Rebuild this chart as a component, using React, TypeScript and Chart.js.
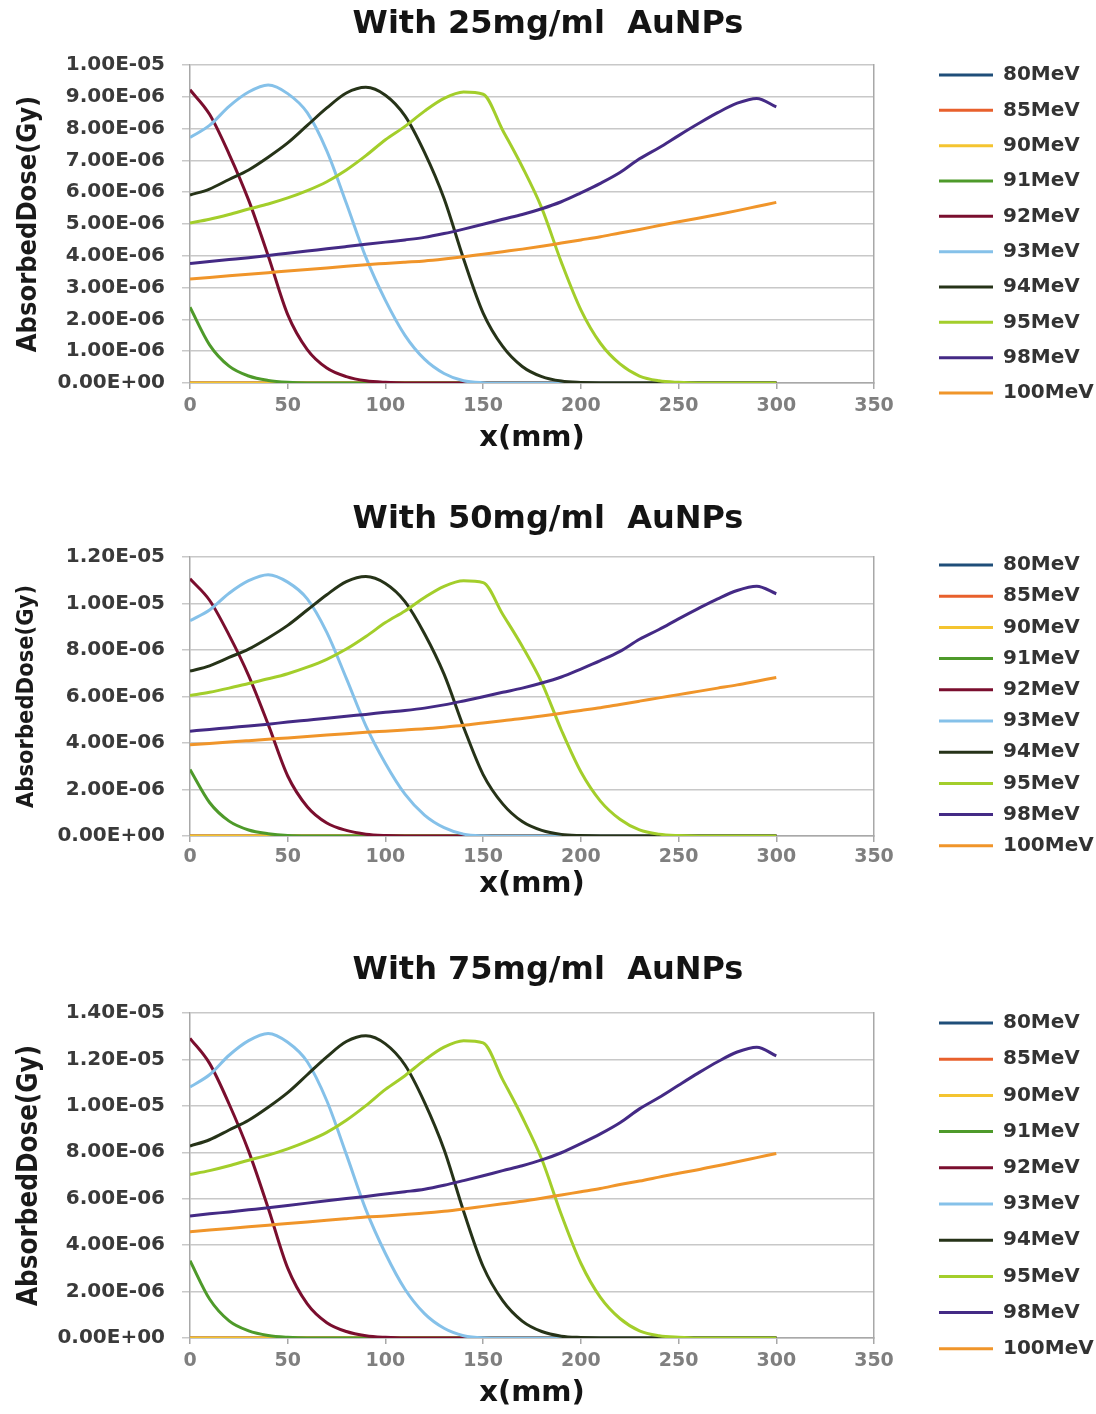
import React, { useEffect, useRef } from 'react';
import { Chart, registerables } from 'chart.js';

Chart.register(...registerables);

// ---------- data (dose values in units of 1e-6 Gy) ----------
const positionsMm = [0, 10, 20, 30, 40, 50, 60, 70, 80, 90, 100, 110, 120, 130, 140, 150, 160, 170, 180, 190, 200, 210, 220, 230, 240, 250, 260, 270, 280, 290, 300];

const energyLabels = ['80MeV', '85MeV', '90MeV', '91MeV', '92MeV', '93MeV', '94MeV', '95MeV', '98MeV', '100MeV'];
const lineColors = ['#1F4E79', '#E8602C', '#F4C430', '#4E9A2A', '#7A0E2E', '#85C1E9', '#263318', '#A3CE2B', '#442A85', '#F0952A'];

const panelTitles = ['With 25mg/ml  AuNPs', 'With 50mg/ml  AuNPs', 'With 75mg/ml  AuNPs'];
const yMaxes = [10, 12, 14];
const ySteps = [1, 2, 2];
const xTicksMm = { min: 0, max: 350, step: 50 };

const flatZero = [0, 0, 0, 0, 0, 0, 0, 0, 0, 0, 0, 0, 0, 0, 0, 0, 0, 0, 0, 0, 0, 0, 0, 0, 0, 0, 0, 0, 0, 0, 0];

// 25 mg/ml
const c25_91 = [2.38, 1.2, 0.53, 0.22, 0.08, 0.02, 0, 0, 0, 0, 0, 0, 0, 0, 0, 0, 0, 0, 0, 0, 0, 0, 0, 0, 0, 0, 0, 0, 0, 0, 0];
const c25_92 = [9.22, 8.45, 7.2, 5.75, 4.0, 2.15, 1.05, 0.47, 0.2, 0.07, 0.02, 0, 0, 0, 0, 0, 0, 0, 0, 0, 0, 0, 0, 0, 0, 0, 0, 0, 0, 0, 0];
const c25_93 = [7.72, 8.1, 8.7, 9.15, 9.37, 9.1, 8.5, 7.3, 5.65, 3.95, 2.6, 1.5, 0.75, 0.3, 0.07, 0.01, 0, 0, 0, 0, 0, 0, 0, 0, 0, 0, 0, 0, 0, 0, 0];
const c25_94 = [5.91, 6.1, 6.4, 6.7, 7.1, 7.55, 8.1, 8.65, 9.12, 9.3, 9.05, 8.4, 7.25, 5.8, 3.9, 2.2, 1.15, 0.52, 0.2, 0.06, 0.015, 0, 0, 0, 0, 0, 0, 0, 0, 0, 0];
const c25_95 = [5.03, 5.15, 5.3, 5.47, 5.63, 5.82, 6.05, 6.33, 6.7, 7.15, 7.65, 8.07, 8.55, 8.95, 9.15, 9.08, 7.95, 6.8, 5.5, 3.8, 2.3, 1.25, 0.6, 0.22, 0.07, 0.02, 0, 0, 0, 0, 0];
const c25_98 = [3.76, 3.82, 3.88, 3.94, 4.01, 4.08, 4.15, 4.22, 4.29, 4.36, 4.43, 4.5, 4.58, 4.7, 4.84, 4.99, 5.15, 5.3, 5.48, 5.7, 5.98, 6.28, 6.62, 7.05, 7.4, 7.78, 8.15, 8.5, 8.8, 8.95, 8.68];
const c25_100 = [3.27, 3.32, 3.37, 3.42, 3.47, 3.52, 3.57, 3.62, 3.67, 3.72, 3.76, 3.8, 3.84, 3.9, 3.97, 4.05, 4.13, 4.21, 4.3, 4.4, 4.5, 4.6, 4.72, 4.83, 4.95, 5.07, 5.18, 5.3, 5.42, 5.55, 5.68];

// 50 mg/ml
const c50_91 = [2.86, 1.44, 0.64, 0.26, 0.1, 0.02, 0, 0, 0, 0, 0, 0, 0, 0, 0, 0, 0, 0, 0, 0, 0, 0, 0, 0, 0, 0, 0, 0, 0, 0, 0];
const c50_92 = [11.06, 10.14, 8.64, 6.9, 4.8, 2.58, 1.26, 0.56, 0.24, 0.08, 0.02, 0, 0, 0, 0, 0, 0, 0, 0, 0, 0, 0, 0, 0, 0, 0, 0, 0, 0, 0, 0];
const c50_93 = [9.26, 9.72, 10.44, 10.98, 11.24, 10.92, 10.2, 8.76, 6.78, 4.74, 3.12, 1.8, 0.9, 0.36, 0.08, 0.01, 0, 0, 0, 0, 0, 0, 0, 0, 0, 0, 0, 0, 0, 0, 0];
const c50_94 = [7.09, 7.32, 7.68, 8.04, 8.52, 9.06, 9.72, 10.38, 10.94, 11.16, 10.86, 10.08, 8.7, 6.96, 4.68, 2.64, 1.38, 0.62, 0.24, 0.07, 0.02, 0, 0, 0, 0, 0, 0, 0, 0, 0, 0];
const c50_95 = [6.04, 6.18, 6.36, 6.56, 6.76, 6.98, 7.26, 7.6, 8.04, 8.58, 9.18, 9.68, 10.26, 10.74, 10.98, 10.9, 9.54, 8.16, 6.6, 4.56, 2.76, 1.5, 0.72, 0.26, 0.08, 0.02, 0, 0, 0, 0, 0];
const c50_98 = [4.51, 4.58, 4.66, 4.73, 4.81, 4.9, 4.98, 5.06, 5.15, 5.23, 5.32, 5.4, 5.5, 5.64, 5.81, 5.99, 6.18, 6.36, 6.58, 6.84, 7.18, 7.54, 7.94, 8.46, 8.88, 9.34, 9.78, 10.2, 10.56, 10.74, 10.42];
const c50_100 = [3.92, 3.98, 4.04, 4.1, 4.16, 4.22, 4.28, 4.34, 4.4, 4.46, 4.51, 4.56, 4.61, 4.68, 4.76, 4.86, 4.96, 5.05, 5.16, 5.28, 5.4, 5.52, 5.66, 5.8, 5.94, 6.08, 6.22, 6.36, 6.5, 6.66, 6.82];

// 75 mg/ml
const c75_91 = [3.33, 1.68, 0.74, 0.31, 0.11, 0.03, 0, 0, 0, 0, 0, 0, 0, 0, 0, 0, 0, 0, 0, 0, 0, 0, 0, 0, 0, 0, 0, 0, 0, 0, 0];
const c75_92 = [12.91, 11.83, 10.08, 8.05, 5.6, 3.01, 1.47, 0.66, 0.28, 0.1, 0.03, 0, 0, 0, 0, 0, 0, 0, 0, 0, 0, 0, 0, 0, 0, 0, 0, 0, 0, 0, 0];
const c75_93 = [10.81, 11.34, 12.18, 12.81, 13.12, 12.74, 11.9, 10.22, 7.91, 5.53, 3.64, 2.1, 1.05, 0.42, 0.1, 0.01, 0, 0, 0, 0, 0, 0, 0, 0, 0, 0, 0, 0, 0, 0, 0];
const c75_94 = [8.27, 8.54, 8.96, 9.38, 9.94, 10.57, 11.34, 12.11, 12.77, 13.02, 12.67, 11.76, 10.15, 8.12, 5.46, 3.08, 1.61, 0.73, 0.28, 0.08, 0.02, 0, 0, 0, 0, 0, 0, 0, 0, 0, 0];
const c75_95 = [7.04, 7.21, 7.42, 7.66, 7.88, 8.15, 8.47, 8.86, 9.38, 10.01, 10.71, 11.3, 11.97, 12.53, 12.81, 12.71, 11.13, 9.52, 7.7, 5.32, 3.22, 1.75, 0.84, 0.31, 0.1, 0.03, 0, 0, 0, 0, 0];
const c75_98 = [5.26, 5.35, 5.43, 5.52, 5.61, 5.71, 5.81, 5.91, 6.01, 6.1, 6.2, 6.3, 6.41, 6.58, 6.78, 6.99, 7.21, 7.42, 7.67, 7.98, 8.37, 8.79, 9.27, 9.87, 10.36, 10.89, 11.41, 11.9, 12.32, 12.53, 12.15];
const c75_100 = [4.58, 4.65, 4.72, 4.79, 4.86, 4.93, 5.0, 5.07, 5.14, 5.21, 5.26, 5.32, 5.38, 5.46, 5.56, 5.67, 5.78, 5.89, 6.02, 6.16, 6.3, 6.44, 6.61, 6.76, 6.93, 7.1, 7.25, 7.42, 7.59, 7.77, 7.95];

const panelSeries = [
  [flatZero, flatZero, flatZero, c25_91, c25_92, c25_93, c25_94, c25_95, c25_98, c25_100],
  [flatZero, flatZero, flatZero, c50_91, c50_92, c50_93, c50_94, c50_95, c50_98, c50_100],
  [flatZero, flatZero, flatZero, c75_91, c75_92, c75_93, c75_94, c75_95, c75_98, c75_100],
];

// ---------- layout (page pixels) ----------
const PAGE_W = 1096;
const PLOT_LEFT = 190;
const PLOT_RIGHT = 874;
const LEGEND_LINE_X = 939;

const panelLayout = [
  { top: 0, height: 460, titlePadTop: 6.4, titlePadBottom: 21.4, xAxisHeight: 77, xTitlePadBottom: 4.6, legendPad: 15.33, legendFirstTop: 65, yTitleSize: 27, xTickPad: 6 },
  { top: 480, height: 426, titlePadTop: 21.4, titlePadBottom: 18.4, xAxisHeight: 70, xTitlePadBottom: 4.6, legendPad: 11.2, legendFirstTop: 75, yTitleSize: 23.5, xTickPad: 4 },
  { top: 930, height: 484, titlePadTop: 22.4, titlePadBottom: 23.4, xAxisHeight: 76, xTitlePadBottom: 3.6, legendPad: 16.2, legendFirstTop: 83, yTitleSize: 27.5, xTickPad: 6 },
];

const FONT = '"DejaVu Sans", "Liberation Sans", sans-serif';
const NARROW = '"Liberation Sans Narrow", "DejaVu Sans Condensed", "Liberation Sans", sans-serif';

function sciLabel(v: number): string {
  const val = v * 1e-6;
  if (Math.abs(val) < 1e-15) return '0.00E+00';
  const [m, e] = val.toExponential(2).split('e');
  const n = Number(e);
  return `${m}E${n < 0 ? '-' : '+'}${String(Math.abs(n)).padStart(2, '0')}`;
}

function Panel({ index }: { index: number }) {
  const ref = useRef<HTMLCanvasElement | null>(null);
  const lay = panelLayout[index];

  useEffect(() => {
    if (!ref.current) return;
    const series = panelSeries[index];
    const legendGap = LEGEND_LINE_X - PLOT_RIGHT - lay.legendPad;
    const legendWidth = PAGE_W - PLOT_RIGHT - legendGap;
    const legendTitleH = lay.legendFirstTop - lay.legendPad;

    const chart = new Chart(ref.current, {
      type: 'line',
      data: {
        datasets: energyLabels.map((label, i) => ({
          label,
          data: positionsMm.map((x, k) => ({ x, y: series[i][k] })),
          borderColor: lineColors[i],
          backgroundColor: lineColors[i],
          borderWidth: 3,
          pointRadius: 0,
          fill: false,
          cubicInterpolationMode: 'monotone' as const,
          order: energyLabels.length - i,
          yAxisID: 'y',
        })),
      },
      options: {
        animation: false,
        responsive: false,
        events: [],
        layout: { padding: 0 },
        plugins: {
          tooltip: { enabled: false },
          title: {
            display: true,
            text: panelTitles[index],
            color: '#141414',
            font: { family: FONT, size: 32, weight: 'bold', lineHeight: 1.2 },
            padding: { top: lay.titlePadTop - 0.6, bottom: lay.titlePadBottom - 0.6 },
          },
          legend: {
            position: 'right',
            align: 'start',
            reverse: true,
            maxWidth: legendWidth,
            title: {
              display: true,
              text: '',
              font: { size: 10, lineHeight: 1 },
              padding: { top: legendTitleH - 10, bottom: 0 },
            },
            labels: {
              usePointStyle: true,
              pointStyle: 'line',
              pointStyleWidth: 54,
              color: '#333333',
              font: { family: FONT, size: 20, weight: 'bold' },
              padding: lay.legendPad,
            },
          },
        },
        scales: {
          x: {
            type: 'linear',
            min: xTicksMm.min,
            max: xTicksMm.max,
            ticks: {
              stepSize: xTicksMm.step,
              color: '#7f7f7f',
              font: { family: FONT, size: 19, weight: 'bold' },
              padding: lay.xTickPad,
              maxRotation: 0,
            },
            grid: { drawOnChartArea: false, drawTicks: true, tickLength: 6, color: '#a8a8a8', lineWidth: 1.5 },
            border: { display: true, color: '#a8a8a8', width: 1.5 },
            title: {
              display: true,
              text: 'x(mm)',
              color: '#141414',
              font: { family: FONT, size: 29, weight: 'bold', lineHeight: 1.2 },
              padding: { top: 0, bottom: lay.xTitlePadBottom },
            },
            afterFit: (s: any) => { s.height = lay.xAxisHeight; },
          },
          y: {
            type: 'linear',
            position: 'left',
            min: 0,
            max: yMaxes[index],
            ticks: {
              stepSize: ySteps[index],
              color: '#3a3a3a',
              font: { family: FONT, size: 20, weight: 'bold' },
              padding: 17,
              callback: (v: any) => sciLabel(Number(v)),
            },
            grid: { color: '#c8c8c8', lineWidth: 1.5, drawTicks: true, tickLength: 8 },
            border: { display: true, color: '#a8a8a8', width: 1.5 },
            title: {
              display: true,
              text: 'AbsorbedDose(Gy)',
              color: '#1a1a1a',
              font: { family: NARROW, size: lay.yTitleSize, weight: 'bold', lineHeight: 1.2 },
              padding: { top: 13, bottom: 0 },
            },
            afterFit: (s: any) => { s.width = PLOT_LEFT; },
          },
          y2: {
            type: 'linear',
            position: 'right',
            display: true,
            grid: { display: false, drawOnChartArea: false },
            ticks: { display: false },
            border: { display: true, color: '#a8a8a8', width: 1.5 },
            afterFit: (s: any) => { s.width = legendGap; },
          },
        },
      } as any,
    });
    return () => chart.destroy();
  }, [index]);

  return (
    <div style={{ position: 'absolute', left: 0, top: lay.top, width: PAGE_W, height: lay.height }}>
      <canvas ref={ref} width={PAGE_W} height={lay.height} style={{ width: PAGE_W, height: lay.height, display: 'block' }} />
    </div>
  );
}

export default function App() {
  return (
    <div style={{ position: 'absolute', left: 0, top: 0, width: PAGE_W, height: 1414, overflow: 'hidden', background: '#ffffff' }}>
      {[0, 1, 2].map((i) => (
        <Panel key={i} index={i} />
      ))}
    </div>
  );
}
